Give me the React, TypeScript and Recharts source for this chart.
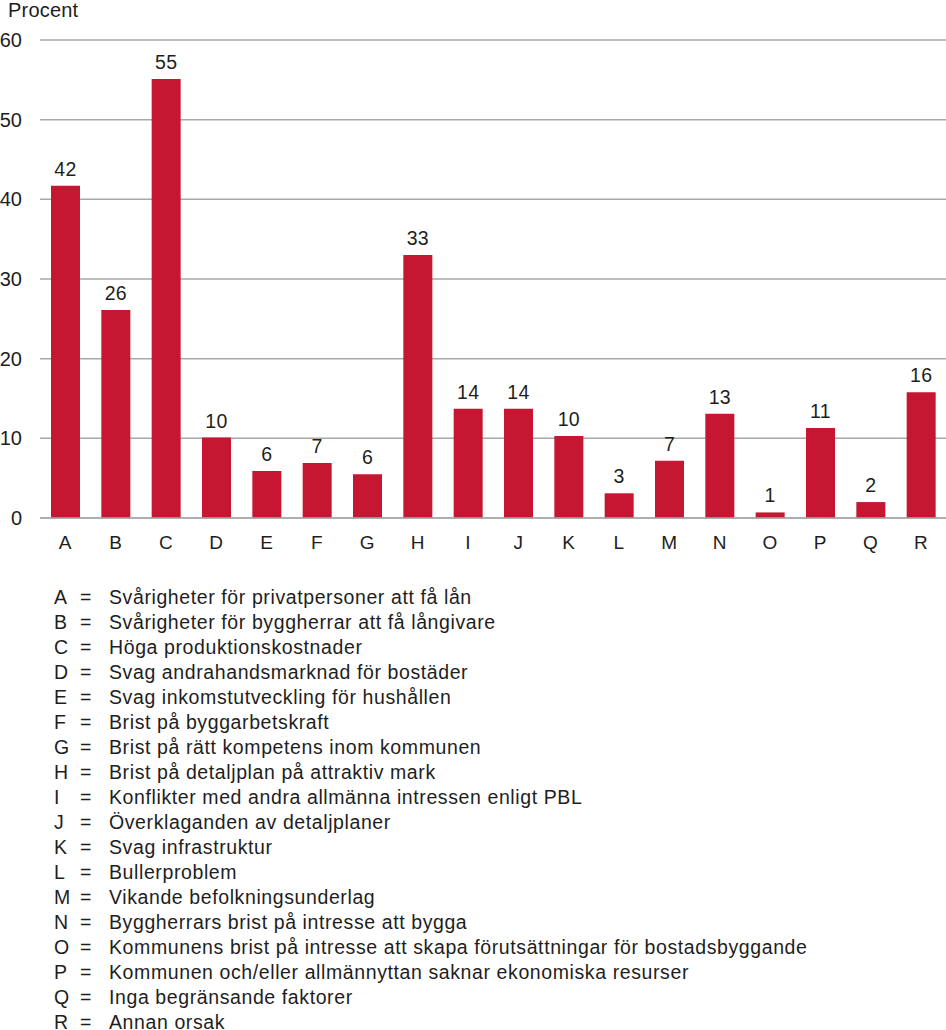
import React from "react";
import { BarChart, Bar, XAxis, YAxis, CartesianGrid, LabelList } from "recharts";

const categories = ["A", "B", "C", "D", "E", "F", "G", "H", "I", "J", "K", "L", "M", "N", "O", "P", "Q", "R"];
const values = [41.7, 26.1, 55.1, 10.1, 5.9, 6.9, 5.5, 33.0, 13.7, 13.7, 10.3, 3.1, 7.2, 13.1, 0.7, 11.3, 2.0, 15.8];
const yTicks = [0, 10, 20, 30, 40, 50, 60];
const descriptions = [
  "Svårigheter för privatpersoner att få lån",
  "Svårigheter för byggherrar att få långivare",
  "Höga produktionskostnader",
  "Svag andrahandsmarknad för bostäder",
  "Svag inkomstutveckling för hushållen",
  "Brist på byggarbetskraft",
  "Brist på rätt kompetens inom kommunen",
  "Brist på detaljplan på attraktiv mark",
  "Konflikter med andra allmänna intressen enligt PBL",
  "Överklaganden av detaljplaner",
  "Svag infrastruktur",
  "Bullerproblem",
  "Vikande befolkningsunderlag",
  "Byggherrars brist på intresse att bygga",
  "Kommunens brist på intresse att skapa förutsättningar för bostadsbyggande",
  "Kommunen och/eller allmännyttan saknar ekonomiska resurser",
  "Inga begränsande faktorer",
  "Annan orsak",
];

const data = categories.map((c, i) => ({ cat: c, value: values[i] }));

const FONT = '"Liberation Sans", Arial, Helvetica, sans-serif';
const TEXT = "#1e1e1e";
const RED = "#c51632";
const GRID = "#a8a8a8";

export default function App() {
  return (
    <div style={{ position: "absolute", left: 0, top: 0, width: 946, height: 1030, background: "#fff", fontFamily: FONT, color: TEXT, overflow: "hidden" }}>
      <div style={{ position: "absolute", left: 8, top: 0, fontSize: 20, lineHeight: "20px", letterSpacing: 0.2 }}>Procent</div>
      <BarChart width={946} height={560} data={data} margin={{ top: 40, right: 0, bottom: 0, left: 0 }} barSize={29}>
        <CartesianGrid vertical={false} stroke={GRID} strokeWidth={1.5} />
        <XAxis
          dataKey="cat"
          height={42}
          axisLine={{ stroke: GRID, strokeWidth: 1.5 }}
          tickLine={false}
          tickSize={0}
          tickMargin={18}
          tick={{ fill: TEXT, fontSize: 19, fontFamily: FONT }}
          interval={0}
        />
        <YAxis
          width={40}
          domain={[0, 60]}
          ticks={yTicks}
          axisLine={false}
          tickLine={false}
          tickSize={0}
          tickMargin={18}
          tick={{ fill: TEXT, fontSize: 20, fontFamily: FONT }}
        />
        <Bar dataKey="value" fill={RED} isAnimationActive={false}>
          <LabelList
            dataKey="value"
            position="top"
            offset={10}
            formatter={(v: number) => Math.round(v)}
            style={{ fill: TEXT, fontSize: 19.5, fontFamily: FONT, letterSpacing: 0.3 }}
          />
        </Bar>
      </BarChart>
      <div style={{ position: "absolute", left: 0, top: 585, fontSize: 19.5, lineHeight: "25px", letterSpacing: 0.6 }}>
        {categories.map((c, i) => (
          <div key={c} style={{ position: "relative", height: 25, whiteSpace: "nowrap" }}>
            <span style={{ position: "absolute", left: 54 }}>{c}</span>
            <span style={{ position: "absolute", left: 80 }}>=</span>
            <span style={{ position: "absolute", left: 109 }}>{descriptions[i]}</span>
          </div>
        ))}
      </div>
    </div>
  );
}
